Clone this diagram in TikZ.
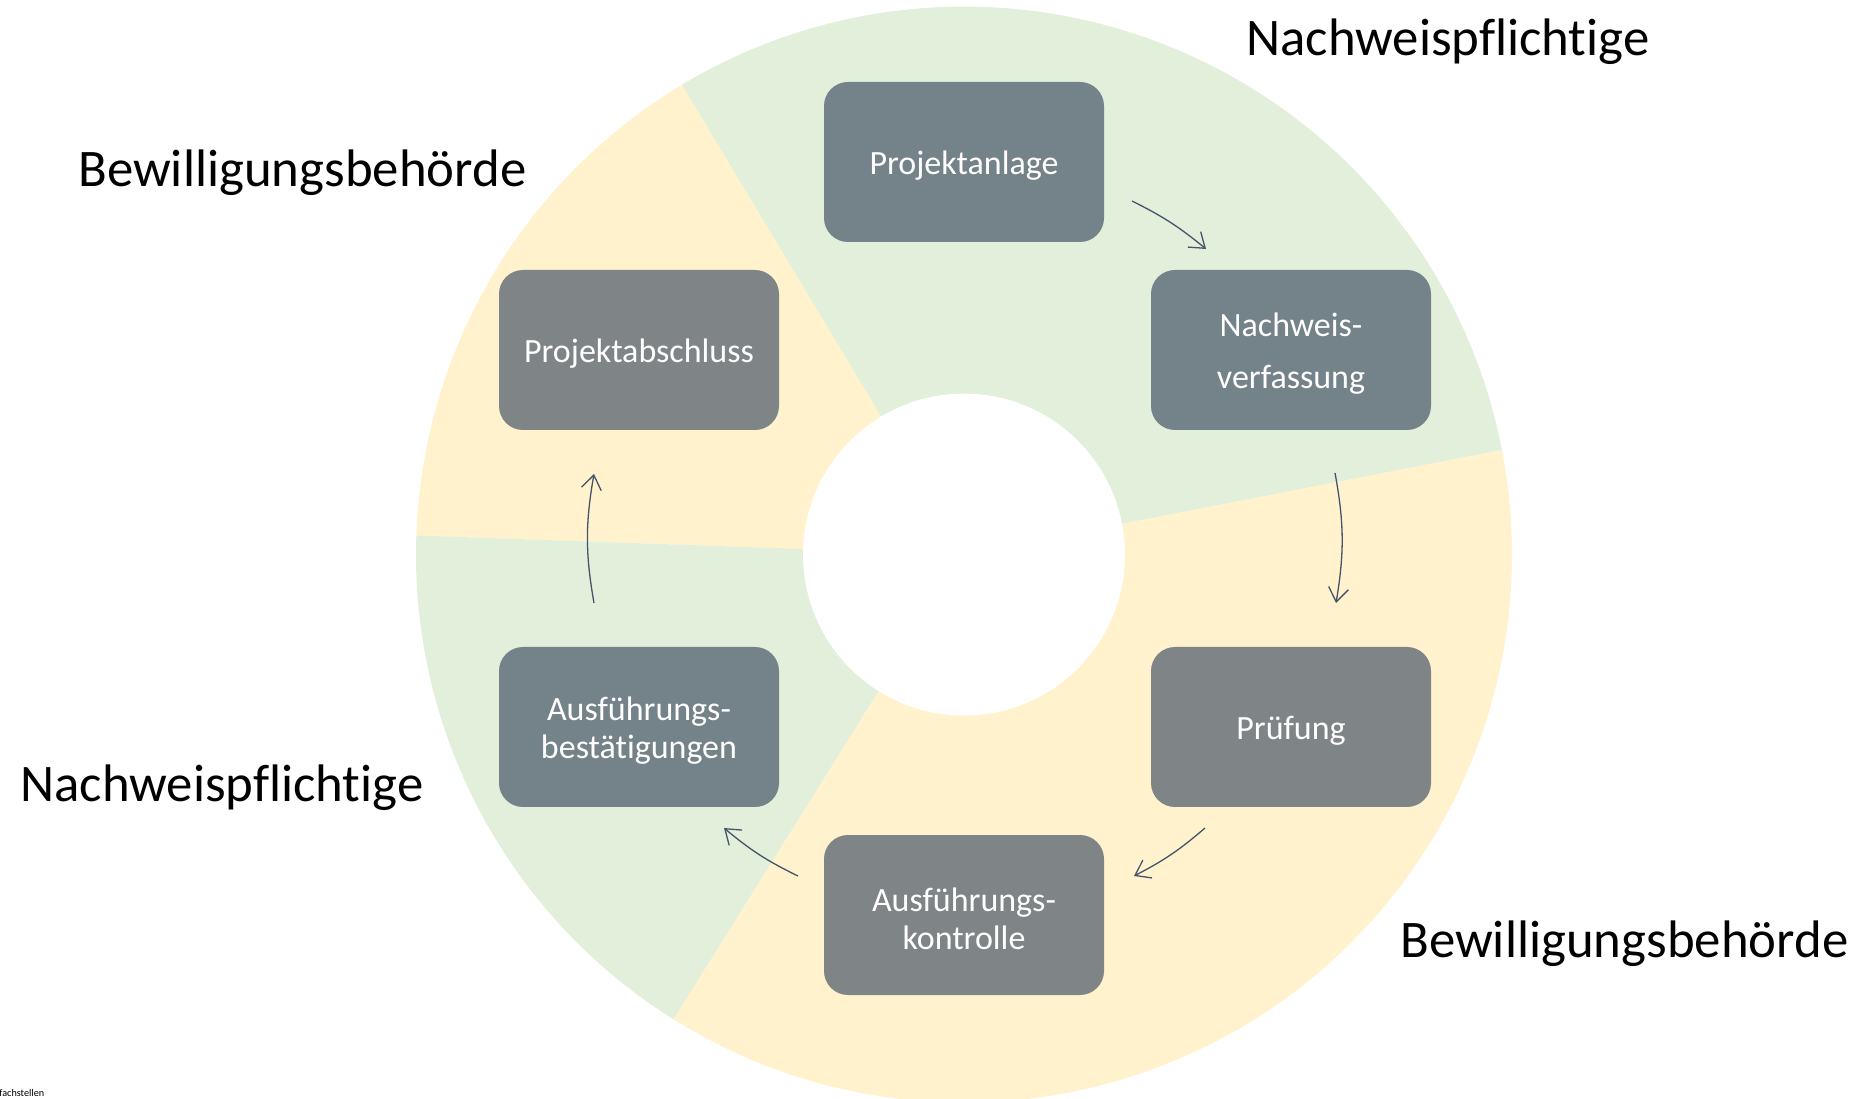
\documentclass[tikz,border=0pt]{standalone}
\usepackage{fontspec}
\setmainfont{Carlito}[Ligatures={NoCommon}]
\usetikzlibrary{arrows.meta}
\definecolor{ringgreen}{HTML}{E2EFDA}
\definecolor{ringyellow}{HTML}{FFF2CC}
\definecolor{boxblue}{HTML}{74828A}
\definecolor{boxgray}{HTML}{7F8487}
\definecolor{arrowcol}{HTML}{44546A}
\tikzset{
  stepbox/.style={draw=none, rounded corners=12pt, minimum width=140pt, minimum height=80pt, inner sep=2pt},
  boxtext/.style={text=white, align=center, font=\fontsize{17}{19}\selectfont, inner sep=0pt, yshift=-1.8pt},
  bluebox/.style={stepbox, fill=boxblue},
  graybox/.style={stepbox, fill=boxgray},
  heading/.style={anchor=west, inner sep=0pt, font=\fontsize{26.4}{30}\selectfont, text=black},
  cyclearrow/.style={draw=arrowcol, line width=0.65pt, -{Straight Barb[length=7pt,width=10pt]}},
}
\begin{document}
\begin{tikzpicture}[x=0.5pt,y=0.5pt]
\useasboundingbox (0,0) rectangle (1862,1098);
\clip (0,0) rectangle (1862,1098);
\coordinate (C) at (964,543.4);
% ring sectors
\fill[ringgreen] (C) -- ++(11:548) arc[start angle=11,end angle=121,radius=548] -- cycle;
\fill[ringyellow] (C) -- ++(121:548) arc[start angle=121,end angle=178,radius=548] -- cycle;
\fill[ringgreen] (C) -- ++(178:548) arc[start angle=178,end angle=238,radius=548] -- cycle;
\fill[ringyellow] (C) -- ++(238:548) arc[start angle=238,end angle=371,radius=548] -- cycle;
\fill[white] (C) circle[radius=161];
% boxes
\node[bluebox, label={[boxtext]center:Projektanlage}] (anlage) at (964,936) {};
\node[bluebox, label={[boxtext, font=\fontsize{17}{26}\selectfont]center:{Nachweis-\\verfassung}}] (nachweis) at (1291,748) {};
\node[graybox, label={[boxtext]center:Prüfung}] (pruefung) at (1291,371) {};
\node[graybox, label={[boxtext]center:{Ausführungs-\\kontrolle}}] (kontrolle) at (964,183) {};
\node[bluebox, label={[boxtext]center:{Ausführungs-\\bestätigungen}}] (bestaet) at (639,371) {};
\node[graybox, label={[boxtext]center:Projektabschluss}] (abschluss) at (639,748) {};
% arrow end points
\coordinate (a1s) at (1132,897); \coordinate (a1e) at (1206,849);
\coordinate (a2s) at (1335,625); \coordinate (a2e) at (1336,495);
\coordinate (a3s) at (1205,270); \coordinate (a3e) at (1134,222);
\coordinate (a4s) at (798,222);  \coordinate (a4e) at (724,270);
\coordinate (a5s) at (594,495);  \coordinate (a5e) at (594,624);
\draw[cyclearrow] (a1s) to[bend left=6.5] (a1e);
\draw[cyclearrow] (a2s) to[bend left=10] (a2e);
\draw[cyclearrow] (a3s) to[bend left=6.7] (a3e);
\draw[cyclearrow] (a4s) to[bend left=7] (a4e);
\draw[cyclearrow] (a5s) to[bend left=10] (a5e);
% headings
\node[heading] (np1) at (1246,1056.4) {Nachweispflichtige};
\node[heading] (bb1) at (78,925.4) {Bewilligungsbehörde};
\node[heading] (np2) at (20,310.4) {Nachweispflichtige};
\node[heading] (bb2) at (1400,154.4) {Bewilligungsbehörde};
\node[anchor=west, inner sep=0pt, font=\fontsize{5.1}{6}\selectfont] (fach) at (-1,5) {fachstellen};
\end{tikzpicture}
\end{document}
